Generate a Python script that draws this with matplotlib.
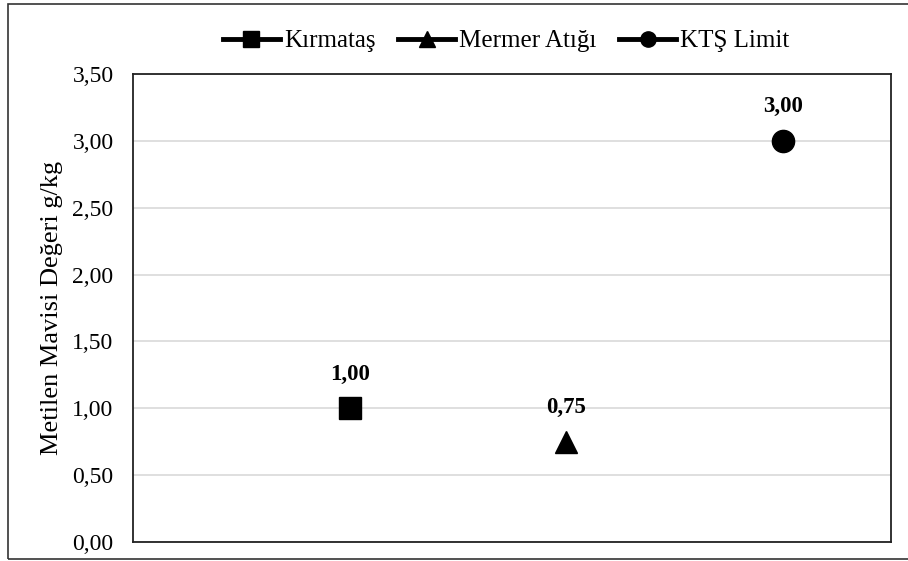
import matplotlib.pyplot as plt
from matplotlib.patches import Rectangle
from matplotlib.ticker import FuncFormatter

plt.rcParams['font.family'] = ['Liberation Serif', 'DejaVu Serif']

series = ['Kırmataş', 'Mermer Atığı', 'KTŞ Limit']
values = [1.00, 0.75, 3.00]
positions = [1, 2, 3]
markers = ['s', '^', 'o']
labels = ['1,00', '0,75', '3,00']

fig = plt.figure(figsize=(9.08, 5.61), dpi=100)
ax = fig.add_axes([133/908, 1 - 542/561, (891-133)/908, (542-74)/561])

for name, x, v, m, lab in zip(series, positions, values, markers, labels):
    ax.plot([x], [v], marker=m, markersize=16, color='black', linewidth=3.5,
            linestyle='-', label=name, zorder=3)
    ax.annotate(lab, (x, v), xytext=(0, 17), textcoords='offset points',
                ha='center', va='bottom', fontsize=16.5, fontweight='bold')

ax.set_xlim(0, 3.5)
ax.set_ylim(0, 3.5)
ax.set_yticks([i * 0.5 for i in range(8)])
ax.yaxis.set_major_formatter(FuncFormatter(lambda v, p: f'{v:.2f}'.replace('.', ',')))
ax.set_xticks([])
ax.tick_params(axis='y', length=0, labelsize=17, pad=14)
ax.grid(axis='y', color='#d9d9d9', linewidth=1.2, zorder=0)
for s in ax.spines.values():
    s.set_color('#222222')
    s.set_linewidth(1.3)
ax.set_ylabel('Metilen Mavisi Değeri g/kg', fontsize=19, labelpad=7)

leg = ax.legend(loc='center', bbox_to_anchor=(506/908, 1 - 41/561), bbox_transform=fig.transFigure,
                ncol=3, frameon=False, fontsize=18, handlelength=2.3, handletextpad=0.15,
                columnspacing=0.9)
for h in leg.legend_handles:
    h.set_markersize(11)

fig.patches.append(Rectangle((8/908, 2/561), 1 - 8/908 + 0.01, 1 - 6/561,
                             transform=fig.transFigure, fill=False,
                             edgecolor='#333333', linewidth=1.2))

fig.savefig('out.png', dpi=100)
